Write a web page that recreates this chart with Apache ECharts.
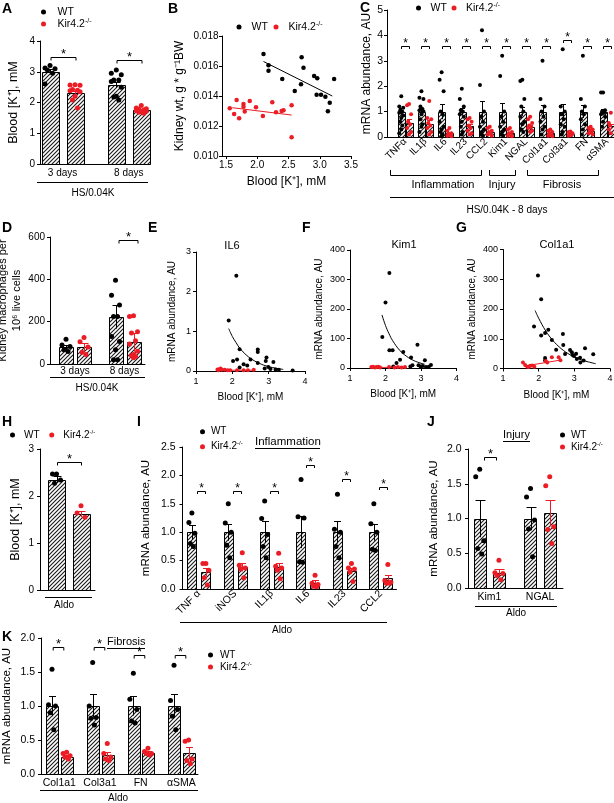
<!DOCTYPE html>
<html><head><meta charset="utf-8">
<script src="https://cdn.jsdelivr.net/npm/echarts@6/dist/echarts.min.js"></script>
<style>html,body{margin:0;padding:0;background:#fff}#c{width:614px;height:803px}</style>
</head><body><div id="c"></div>
<script>
// ================= DATA =================
// Panel A
const A_categories = ['3 days', '8 days'];
const A_wtMean = [3.0, 2.58];
const A_wtSem = [0.08, 0.1];
const A_koMean = [2.3, 1.75];
const A_koSem = [0.08, 0.03];
const A_wtPoints = [[3.2, 3.12, 3.1, 3.05, 2.95, 2.6], [3.06, 2.95, 2.9, 2.73, 2.73, 2.68, 2.5, 2.2, 2.18, 2.08]];
const A_koPoints = [[2.58, 2.57, 2.56, 2.42, 2.4, 2.38, 2.35, 2.2, 2.08, 1.82], [1.9, 1.82, 1.8, 1.78, 1.76, 1.74, 1.72, 1.7, 1.68, 1.65]];
const A_sig = [3.48, 3.38];

// Panel B
const B_wt = [[2.10,0.0168],[2.18,0.01605],[2.18,0.01569],[2.40,0.01513],[2.60,0.01433],[2.70,0.01478],[2.71,0.01658],[2.74,0.01589],[2.91,0.01533],[2.96,0.01518],[3.23,0.01513],[2.95,0.01409],[3.02,0.01409],[3.09,0.01395],[3.16,0.01355],[3.13,0.01298]];
const B_ko = [[1.56,0.01318],[1.63,0.0128],[1.67,0.01373],[1.71,0.01251],[1.78,0.01347],[1.78,0.01329],[1.80,0.01296],[1.88,0.01367],[1.98,0.01325],[2.09,0.01267],[2.24,0.01358],[2.30,0.01291],[2.39,0.01300],[2.42,0.01305],[2.55,0.01338],[2.55,0.01125]];
const B_wtFit = [[2.1,0.0163],[3.2,0.0140]];
const B_koFit = [[1.6,0.01322],[2.55,0.01273]];
const B_xTicks = [1.5, 2.0, 2.5, 3.0, 3.5];

// Panel C
const C_genes = ['TNFα','IL1β','IL6','IL23','CCL2','Kim1','NGAL','Col1a1','Col3a1','FN','αSMA'];
const C_wtMean = [1,1,1,1,1,1,1,1,1,1,1];
const C_wtSem = [0.15,0.15,0.3,0.15,0.4,0.35,0.17,0.25,0.28,0.25,0.12];
const C_koMean = [0.55,0.5,0.15,0.45,0.2,0.15,0.4,0.15,0.12,0.25,0.42];
const C_koSem = [0.15,0.15,0.05,0.08,0.05,0.05,0.08,0.04,0.03,0.05,0.1];
const C_wtPoints = [
  [1.6,1.2,1.15,1.05,1.0,0.95,0.85,0.75,0.6,0.45,0.3,0.15],
  [1.8,1.55,1.5,1.2,1.1,1.05,1.0,0.9,0.7,0.5,0.4,0.2],
  [2.55,2.25,1.8,1.0,0.9,0.6,0.4,0.3,0.2,0.1,0.05],
  [1.9,1.5,1.2,1.05,1.0,0.9,0.8,0.6,0.4,0.2,0.1],
  [4.2,2.05,1.0,0.8,0.6,0.4,0.3,0.2,0.1,0.05],
  [3.2,2.4,1.0,0.8,0.6,0.4,0.3,0.2,0.1,0.05],
  [2.25,2.2,1.5,1.2,1.0,0.8,0.6,0.5,0.3,0.2],
  [3.0,1.5,1.2,1.0,0.8,0.6,0.4,0.3,0.1],
  [3.45,1.2,1.0,0.9,0.7,0.5,0.4,0.2,0.1],
  [3.2,1.5,1.2,1.0,0.9,0.7,0.5,0.3,0.1],
  [1.75,1.75,1.05,1.0,0.95,0.9,0.8,0.6,0.4]
];
const C_koPoints = [
  [1.3,1.25,0.9,0.6,0.5,0.35,0.2,0.1],
  [1.42,0.75,0.7,0.55,0.45,0.35,0.2,0.1],
  [0.35,0.25,0.15,0.12,0.08,0.05,0.03],
  [0.75,0.7,0.6,0.45,0.35,0.25,0.15,0.1],
  [0.4,0.35,0.25,0.2,0.15,0.1,0.05],
  [0.35,0.3,0.2,0.15,0.1,0.05,0.03],
  [0.8,0.7,0.55,0.45,0.4,0.35,0.25,0.2],
  [0.3,0.25,0.2,0.15,0.1,0.05,0.03],
  [0.22,0.2,0.15,0.12,0.08,0.05],
  [0.4,0.35,0.3,0.25,0.2,0.15,0.1],
  [0.95,0.55,0.5,0.45,0.4,0.3,0.2,0.15]
];
const C_sig = [3.57,3.57,3.57,3.57,3.57,3.57,3.57,3.57,3.83,3.57,3.57];

// Panel D
const D_categories = ['3 days', '8 days'];
const D_wtMean = [80, 222];
const D_wtSem = [10, 55];
const D_koMean = [78, 103];
const D_koSem = [20, 45];
const D_wtPoints = [[117, 90, 83, 67, 59], [396, 325, 279, 224, 224, 130, 106, 67, 20, 20]];
const D_koPoints = [[125, 105, 80, 55, 45], [228, 224, 152, 146, 110, 95, 60, 45, 40, 35, 30]];
const D_sig = [null, 585];

// Panel E (IL6)
const E_wt = [[2.11,2.40],[1.90,1.27],[2.20,0.55],[2.02,0.25],[2.13,0.29],[2.31,0.17],[2.41,0.14],[2.50,0.29],[2.20,0.09],[2.70,0.54],[2.70,0.48],[2.70,0.20],[2.94,0.34],[2.92,0.25],[3.13,0.23],[2.89,0.06],[2.99,0.10],[3.05,0.05],[3.19,0.04],[3.28,0.03],[3.66,0.01]];
const E_ko = [[1.59,0.04],[1.62,0.02],[1.65,0.05],[1.68,0.06],[1.71,0.03],[1.79,0.03],[1.87,0.02],[1.94,0.02],[2.13,0.02],[2.31,0.02],[2.43,0.02],[2.59,0.03]];
const E_wtFit = [[1.9,1.07],[2.0,0.87],[2.1,0.72],[2.2,0.58],[2.4,0.39],[2.6,0.26],[2.8,0.17],[3.0,0.11],[3.2,0.07],[3.4,0.04]];
const E_koFit = [[1.6,0.02],[2.6,0.02]];

// Panel F (Kim1)
const F_wt = [[2.11,322],[2.0,222],[1.91,105],[2.11,60],[2.20,60],[2.50,54],[2.41,28],[2.31,17],[2.72,36],[2.90,79],[3.11,26],[2.22,5],[2.70,5],[2.76,9],[2.93,9],[2.99,5],[3.05,7],[3.14,3],[3.22,4],[3.28,10]];
const F_ko = [[1.6,3],[1.65,4],[1.7,2],[1.75,3],[1.8,4],[1.85,2],[2.1,3],[2.25,2],[2.35,3],[2.45,2],[2.55,3]];
const F_wtFit = [[1.9,180],[2.0,144],[2.1,116],[2.2,93],[2.4,60],[2.6,39],[2.8,25],[3.0,16],[3.1,13]];
const F_koFit = [[1.6,2],[2.6,2]];

// Panel G (Col1a1)
const G_wt = [[1.98,313],[2.07,233],[1.87,141],[2.07,111],[2.18,119],[2.27,130],[2.37,96],[2.49,63],[2.68,116],[2.69,79],[2.18,35],[2.18,27],[2.74,49],[2.88,62],[2.93,55],[2.95,45],[2.99,42],[3.05,50],[3.07,32],[3.16,36],[3.17,20],[3.26,27],[3.30,68],[3.53,48]];
const G_ko = [[1.56,20],[1.62,12],[1.68,6],[1.72,5],[1.76,9],[1.82,10],[1.88,6],[2.2,25],[2.24,20],[2.37,38],[2.56,38],[2.61,28]];
const G_wtFit = [[1.9,195],[2.0,169],[2.2,126],[2.4,94],[2.6,70],[2.8,52],[3.0,39],[3.2,29],[3.4,22],[3.6,16]];
const G_koFit = [[1.6,8],[2.6,28]];

// Panel H
const H_wtMean = [2.35];
const H_wtSem = [0.07];
const H_koMean = [1.62];
const H_koSem = [0.07];
const H_wtPoints = [[2.47, 2.47, 2.34, 2.27]];
const H_koPoints = [[1.79, 1.64, 1.55]];
const H_sig = [2.73];

// Panel I
const I_genes = ['TNF α','iNOS','IL1β','IL6','IL23','CCL2'];
const I_wtMean = [1,1,1,1,1,1];
const I_wtSem = [0.13,0.15,0.19,0.28,0.2,0.15];
const I_koMean = [0.3,0.38,0.38,0.1,0.32,0.19];
const I_koSem = [0.07,0.07,0.07,0.05,0.05,0.06];
const I_wtPoints = [[1.34,1.17,0.98,0.8,0.75],[1.5,1.16,1.0,0.77,0.55],[1.55,1.24,0.96,0.75,0.55],[1.93,1.27,1.25,0.48,0.47],[1.67,1.05,1.0,0.75,0.55],[1.5,1.15,1.0,0.7,0.68]];
const I_koPoints = [[0.45,0.45,0.33,0.2,0.07],[0.64,0.42,0.37,0.35,0.2],[0.63,0.4,0.37,0.33,0.18],[0.24,0.1,0.08,0.05,0.04],[0.45,0.37,0.35,0.3,0.13],[0.43,0.15,0.12,0.1,0.1]];
const I_sig = [1.73,1.73,1.73,2.18,1.93,1.79];

// Panel J
const J_genes = ['Kim1','NGAL'];
const J_wtMean = [1.0, 1.0];
const J_wtSem = [0.27, 0.17];
const J_koMean = [0.22, 1.08];
const J_koSem = [0.05, 0.19];
const J_wtPoints = [[1.71,1.6,0.68,0.57,0.49],[1.43,1.31,0.98,0.85,0.45]];
const J_koPoints = [[0.4,0.22,0.21,0.18,0.12],[1.6,1.47,0.88,0.84,0.64]];
const J_sig = [1.89, null];

// Panel K
const K_genes = ['Col1a1','Col3a1','FN','αSMA'];
const K_wtMean = [1,1,1,1];
const K_wtSem = [0.15,0.17,0.14,0.17];
const K_koMean = [0.25,0.28,0.31,0.31];
const K_koSem = [0.03,0.04,0.03,0.08];
const K_wtPoints = [[1.54,1.02,1.0,0.9,0.65],[1.64,1.0,0.83,0.82,0.72],[1.48,1.1,0.95,0.78,0.75],[1.6,1.08,0.95,0.85,0.65]];
const K_koPoints = [[0.32,0.3,0.27,0.25,0.22],[0.45,0.3,0.25,0.22,0.2],[0.38,0.33,0.3,0.3,0.28],[0.5,0.48,0.22,0.2,0.15]];
const K_sig = [1.87,1.87,1.75,1.75];

// ================= STYLE / LAYOUT =================
const FONT = 'Liberation Sans, Arial, Helvetica, sans-serif';
const RED = '#ec1c24';
const WT_NAME = 'WT', KO_NAME = 'Kir4.2-/-';

function makeHatch() {
  const s = 4, c = document.createElement('canvas'); c.width = s; c.height = s;
  const g = c.getContext('2d');
  g.fillStyle = '#fff'; g.fillRect(0, 0, s, s);
  g.strokeStyle = '#1a1a1a'; g.lineWidth = 1.1;
  g.beginPath();
  for (let k = 0; k <= 2; k++) { const cc = k * s; g.moveTo(cc - s - 1, s + 1); g.lineTo(cc + 1, -1); }
  g.stroke();
  return c;
}
const HATCH = { image: makeHatch(), repeat: 'repeat' };

const grids = [], xAxes = [], yAxes = [], series = [], legends = [], graphics = [];

function gridOf(g) {
  grids.push({ left: g[0], top: g[1], width: g[2], height: g[3], containLabel: false, outerBoundsMode: 'none' });
  return grids.length - 1;
}

function yAxisOf(gi, p) {
  return {
    type: 'value', gridIndex: gi, min: p.yMin || 0, max: p.yMax, interval: p.yInt,
    axisLine: { show: true, onZero: false, lineStyle: { color: '#000', width: 1 } },
    axisTick: { show: true, length: 3, lineStyle: { color: '#000', width: 1 } },
    splitLine: { show: false },
    axisLabel: { color: '#000', fontSize: p.tickFont, fontFamily: FONT, margin: p.yLabelMargin,
      formatter: v => Number(v).toFixed(p.yDec) },
    name: p.yName, nameLocation: 'middle', nameRotate: 90, nameGap: p.yNameGap,
    nameTextStyle: { color: '#000', fontSize: p.yNameFont, fontFamily: FONT, lineHeight: p.yNameLH || Math.round(p.yNameFont * 1.2) }
  };
}

const JIT = [0, -1, 1, -0.5, 0.5, -1, 1, 0, -0.5, 0.5, 0, -1, 1];
function pointData(ptsByCat, offU, sprU) {
  const out = [];
  ptsByCat.forEach((vals, i) => vals.forEach((v, j) => out.push([i + offU + JIT[j % JIT.length] * sprU, v])));
  return out;
}

function barSeries(gi, xs, means, sems, errColor, p) {
  return {
    type: 'custom', xAxisIndex: gi, yAxisIndex: gi, silent: true, z: 2, clip: false,
    encode: { x: 0, y: 1 },
    data: means.map((m, i) => [xs[i], m, sems[i]]),
    renderItem: (params, api) => {
      const x = api.value(0), m = api.value(1), s = api.value(2);
      const p0 = api.coord([x, 0]), p1 = api.coord([x, m]);
      const pt = api.coord([x, m + s]), pb = api.coord([x, Math.max(0, m - s)]);
      const w = p.barW;
      const left = Math.round(p0[0] - w / 2) + 0.5;
      const cx = Math.round(p0[0]) + 0.5;
      const topY = Math.round(p1[1]) + 0.5, baseY = Math.round(p0[1]) + 0.5;
      const ty = Math.round(pt[1]) + 0.5;
      return { type: 'group', children: [
        { type: 'rect', shape: { x: left, y: topY, width: Math.round(w), height: baseY - topY }, style: { fill: HATCH, stroke: '#000', lineWidth: 1 } },
        { type: 'line', shape: { x1: cx, y1: pb[1], x2: cx, y2: ty }, style: { stroke: errColor, lineWidth: 1 } },
        { type: 'line', shape: { x1: cx - p.cap, y1: ty, x2: cx + p.cap, y2: ty }, style: { stroke: errColor, lineWidth: 1 } }
      ] };
    }
  };
}

function scatterSeries(gi, name, data, color, size) {
  return { type: 'scatter', name, xAxisIndex: gi, yAxisIndex: gi, data, symbol: 'circle', symbolSize: size,
    itemStyle: { color, opacity: 1 }, silent: true, z: 5 };
}

function sigSeries(gi, sig, p) {
  const data = sig.map((v, i) => [i, v]).filter(a => a[1] != null);
  return {
    type: 'custom', xAxisIndex: gi, yAxisIndex: gi, silent: true, z: 6, clip: false,
    encode: { x: 0, y: 1 }, data,
    renderItem: (params, api) => {
      const c = api.coord([api.value(0), api.value(1)]);
      const x = Math.round(c[0] + p.sigShift) + 0.5, y = Math.round(c[1]) + 0.5;
      const h = p.sigHalf, t = p.sigTick;
      return { type: 'group', children: [
        { type: 'polyline', shape: { points: [[x - h, y + t], [x - h, y], [x + h, y], [x + h, y + t]] }, style: { stroke: '#000', fill: null, lineWidth: 1 } },
        { type: 'text', x: x, y: y + p.star * 0.25, style: { text: '*', fill: '#000', font: p.star + 'px ' + FONT,
          textAlign: 'center', align: 'center', textVerticalAlign: 'bottom', verticalAlign: 'bottom' } }
      ] };
    }
  };
}

function barPanel(p, d) {
  const gi = gridOf(p.grid);
  const unit = p.grid[2] / (p.xMax - p.xMin);
  const cats = d.cats;
  xAxes.push({
    type: 'value', gridIndex: gi, min: p.xMin, max: p.xMax,
    axisLine: { show: true, onZero: false, lineStyle: { color: '#000', width: 1 } },
    axisTick: { show: false }, splitLine: { show: false },
    axisLabel: cats ? { show: true, customValues: cats.map((c, i) => i), formatter: v => cats[Math.round(v)],
      rotate: p.labelRotate || 0, margin: p.labelMargin, color: '#000', fontSize: p.labelFont, fontFamily: FONT } : { show: false }
  });
  yAxes.push(yAxisOf(gi, p));
  const offU = p.barOff / unit, sprU = p.spread / unit;
  series.push(barSeries(gi, d.wtMean.map((m, i) => i - offU), d.wtMean, d.wtSem, '#000', p));
  series.push(barSeries(gi, d.koMean.map((m, i) => i + offU), d.koMean, d.koSem, RED, p));
  series.push(scatterSeries(gi, WT_NAME, pointData(d.wtPts, -offU, sprU), '#000', p.dot));
  series.push(scatterSeries(gi, KO_NAME, pointData(d.koPts, offU, sprU), RED, p.dot));
  if (d.sig) series.push(sigSeries(gi, d.sig, p));
}

function scatterPanel(p, d) {
  const gi = gridOf(p.grid);
  const xa = {
    type: 'value', gridIndex: gi, min: p.xMin, max: p.xMax,
    axisLine: { show: true, onZero: false, lineStyle: { color: '#000', width: 1 } },
    axisTick: { show: true, length: 3, lineStyle: { color: '#000', width: 1 } },
    splitLine: { show: false },
    axisLabel: { color: '#000', fontSize: p.tickFont, fontFamily: FONT, margin: p.xLabelMargin, formatter: v => Number(v).toFixed(p.xDec) },
    name: p.xName, nameLocation: 'middle', nameGap: p.xNameGap,
    nameTextStyle: { color: '#000', fontSize: p.xNameFont, fontFamily: FONT }
  };
  if (p.xTicks) { xa.axisLabel.customValues = p.xTicks; xa.axisTick.customValues = p.xTicks; }
  else { xa.interval = p.xInt; }
  xAxes.push(xa);
  yAxes.push(yAxisOf(gi, p));
  series.push({ type: 'line', xAxisIndex: gi, yAxisIndex: gi, data: d.wtFit, smooth: d.smooth ? 0.4 : false, showSymbol: false, symbol: 'none',
    lineStyle: { color: '#000', width: 1 }, silent: true, z: 3 });
  series.push({ type: 'line', xAxisIndex: gi, yAxisIndex: gi, data: d.koFit, smooth: false, showSymbol: false, symbol: 'none',
    lineStyle: { color: RED, width: 1 }, silent: true, z: 3 });
  series.push(scatterSeries(gi, WT_NAME, d.wt, '#000', p.dot));
  series.push(scatterSeries(gi, KO_NAME, d.ko, RED, p.dot));
}

function legendOf(o) {
  legends.push({
    left: o.left, top: o.top, orient: o.orient, itemGap: o.gap, padding: 0, selectedMode: false,
    icon: 'circle', itemWidth: o.w, itemHeight: 5, data: [WT_NAME, KO_NAME],
    formatter: n => n === WT_NAME ? 'WT' : 'Kir4.2{s|-/-}',
    textStyle: { color: '#000', fontSize: o.font, fontFamily: FONT, lineHeight: 12,
      rich: { s: { fontSize: Math.round(o.font * 0.62), fontFamily: FONT, color: '#000', verticalAlign: 'top', lineHeight: 8 } } }
  });
}

function gText(x, y, text, size, o) {
  o = o || {};
  return { type: 'text', x, y, silent: true, style: { text, fill: '#000', font: (o.bold ? 'bold ' : '') + size + 'px ' + FONT,
    textAlign: o.align || 'left', align: o.align || 'left', textVerticalAlign: 'middle', verticalAlign: 'middle' } };
}
function gLine(x1, y1, x2, y2) { return { type: 'line', silent: true, shape: { x1, y1, x2, y2 }, style: { stroke: '#000', lineWidth: 1 } }; }
function gPoly(points) { return { type: 'polyline', silent: true, shape: { points }, style: { stroke: '#000', fill: null, lineWidth: 1 } }; }

// ================= BUILD PANELS =================
barPanel({ grid: [40, 41, 110, 123], xMin: -0.34, xMax: 1.32, yMax: 4, yInt: 1, yDec: 0, barW: 16.5, barOff: 12.5, cap: 4, dot: 5, spread: 5,
  sigHalf: 12.5, sigShift: 0, sigTick: 3, star: 13, labelMargin: 4, labelFont: 10, tickFont: 10, yLabelMargin: 5,
  yName: 'Blood [K⁺], mM', yNameGap: 19, yNameFont: 12.5 },
  { cats: A_categories, wtMean: A_wtMean, wtSem: A_wtSem, koMean: A_koMean, koSem: A_koSem, wtPts: A_wtPoints, koPts: A_koPoints, sig: A_sig });

scatterPanel({ grid: [222, 36, 129, 120], xMin: 1.436, xMax: 3.5, xTicks: B_xTicks, xDec: 1, yMin: 0.010, yMax: 0.018, yInt: 0.002, yDec: 3,
  tickFont: 10, xLabelMargin: 4, yLabelMargin: 3.5, dot: 4.5,
  xName: 'Blood [K⁺], mM', xNameGap: 20, xNameFont: 12, yName: 'Kidney wt, g * g⁻¹BW', yNameGap: 35, yNameFont: 12 },
  { wt: B_wt, ko: B_ko, wtFit: B_wtFit, koFit: B_koFit, smooth: false });

barPanel({ grid: [387, 10, 224, 127], xMin: -0.9, xMax: 10.2, yMax: 5, yInt: 1, yDec: 0, barW: 6.5, barOff: 3.9, cap: 2.5, dot: 4, spread: 2,
  sigHalf: 4, sigShift: 0, sigTick: 2.5, star: 12, labelRotate: 45, labelMargin: 3, labelFont: 10, tickFont: 10.5, yLabelMargin: 4,
  yName: 'mRNA abundance, AU', yNameGap: 9, yNameFont: 12 },
  { cats: C_genes, wtMean: C_wtMean, wtSem: C_wtSem, koMean: C_koMean, koSem: C_koSem, wtPts: C_wtPoints, koPts: C_koPoints, sig: C_sig });

barPanel({ grid: [50, 237, 95, 127], xMin: -0.505, xMax: 1.414, yMax: 600, yInt: 200, yDec: 0, barW: 14, barOff: 9, cap: 4, dot: 5, spread: 4,
  sigHalf: 9.5, sigShift: 3, sigTick: 3, star: 13, labelMargin: 2, labelFont: 10, tickFont: 10, yLabelMargin: 5,
  yName: 'Kidney macrophages per\n10⁶ live cells', yNameGap: 18, yNameFont: 11, yNameLH: 14.5 },
  { cats: D_categories, wtMean: D_wtMean, wtSem: D_wtSem, koMean: D_koMean, koSem: D_koSem, wtPts: D_wtPoints, koPts: D_koPoints, sig: D_sig });

scatterPanel({ grid: [196, 252, 109, 119], xMin: 1, xMax: 4, xInt: 1, xDec: 0, yMin: 0, yMax: 3, yInt: 1, yDec: 0,
  tickFont: 9, xLabelMargin: 6, yLabelMargin: 5, dot: 4,
  xName: 'Blood [K⁺], mM', xNameGap: 21, xNameFont: 10, yName: 'mRNA abundance, AU', yNameGap: 18, yNameFont: 10 },
  { wt: E_wt, ko: E_ko, wtFit: E_wtFit, koFit: E_koFit, smooth: true });

scatterPanel({ grid: [350, 250, 106.5, 118], xMin: 1, xMax: 4, xInt: 1, xDec: 0, yMin: 0, yMax: 400, yInt: 100, yDec: 0,
  tickFont: 9, xLabelMargin: 6, yLabelMargin: 5, dot: 4,
  xName: 'Blood [K⁺], mM', xNameGap: 21, xNameFont: 10, yName: 'mRNA abundance, AU', yNameGap: 25, yNameFont: 10 },
  { wt: F_wt, ko: F_ko, wtFit: F_wtFit, koFit: F_koFit, smooth: true });

scatterPanel({ grid: [503, 249.5, 107, 119], xMin: 1, xMax: 4, xInt: 1, xDec: 0, yMin: 0, yMax: 400, yInt: 100, yDec: 0,
  tickFont: 9, xLabelMargin: 6, yLabelMargin: 5, dot: 4,
  xName: 'Blood [K⁺], mM', xNameGap: 22, xNameFont: 10, yName: 'mRNA abundance, AU', yNameGap: 24.5, yNameFont: 10 },
  { wt: G_wt, ko: G_ko, wtFit: G_wtFit, koFit: G_koFit, smooth: true });

barPanel({ grid: [40, 449, 55, 141], xMin: -0.575, xMax: 0.525, yMax: 3, yInt: 1, yDec: 0, barW: 16.7, barOff: 12.25, cap: 4, dot: 5, spread: 4,
  sigHalf: 12, sigShift: 0, sigTick: 3, star: 13, tickFont: 10, yLabelMargin: 6,
  yName: 'Blood [K⁺], mM', yNameGap: 17, yNameFont: 12.5 },
  { cats: null, wtMean: H_wtMean, wtSem: H_wtSem, koMean: H_koMean, koSem: H_koSem, wtPts: H_wtPoints, koPts: H_koPoints, sig: H_sig });

barPanel({ grid: [182.5, 447, 214, 142], xMin: -0.45, xMax: 5.43, yMax: 2.5, yInt: 0.5, yDec: 1, barW: 9.4, barOff: 7, cap: 3.5, dot: 5, spread: 3,
  sigHalf: 4, sigShift: 2, sigTick: 2.5, star: 12, labelRotate: 45, labelMargin: 3, labelFont: 10.5, tickFont: 10.5, yLabelMargin: 7,
  yName: 'mRNA abundance, AU', yNameGap: 30, yNameFont: 11.5 },
  { cats: I_genes, wtMean: I_wtMean, wtSem: I_wtSem, koMean: I_koMean, koSem: I_koSem, wtPts: I_wtPoints, koPts: I_koPoints, sig: I_sig });

barPanel({ grid: [468, 449, 95, 139], xMin: -0.42, xMax: 1.45, yMax: 2, yInt: 0.5, yDec: 1, barW: 12.4, barOff: 9.6, cap: 5, dot: 5, spread: 4,
  sigHalf: 6, sigShift: 1, sigTick: 3, star: 13, labelMargin: 4, labelFont: 10.5, tickFont: 10.5, yLabelMargin: 6.5,
  yName: 'mRNA abundance, AU', yNameGap: 27, yNameFont: 11.5 },
  { cats: J_genes, wtMean: J_wtMean, wtSem: J_wtSem, koMean: J_koMean, koSem: J_koSem, wtPts: J_wtPoints, koPts: J_koPoints, sig: J_sig });

barPanel({ grid: [41, 638, 157, 136], xMin: -0.45, xMax: 3.41, yMax: 2, yInt: 0.5, yDec: 1, barW: 11.5, barOff: 7.3, cap: 3.5, dot: 5, spread: 3.5,
  sigHalf: 5.3, sigShift: -1.3, sigTick: 3, star: 13, labelMargin: 4, labelFont: 10.5, tickFont: 10.5, yLabelMargin: 6,
  yName: 'mRNA abundance, AU', yNameGap: 27, yNameFont: 11.5 },
  { cats: K_genes, wtMean: K_wtMean, wtSem: K_wtSem, koMean: K_koMean, koSem: K_koSem, wtPts: K_wtPoints, koPts: K_koPoints, sig: K_sig });

// ================= LEGENDS =================
legendOf({ left: 41, top: 6, orient: 'vertical', gap: 0, w: 18, font: 10.5 });          // A
legendOf({ left: 236.5, top: 21, orient: 'horizontal', gap: 5.7, w: 15, font: 10.5 });  // B
legendOf({ left: 416, top: 2, orient: 'horizontal', gap: 4.7, w: 14, font: 10.5 });     // C
legendOf({ left: 10, top: 429, orient: 'horizontal', gap: 9.6, w: 13.2, font: 10 });    // H
legendOf({ left: 200, top: 425.7, orient: 'vertical', gap: 3, w: 6.8, font: 10 });      // I
legendOf({ left: 560, top: 429, orient: 'vertical', gap: 0, w: 6.8, font: 10 });        // J
legendOf({ left: 208, top: 649, orient: 'vertical', gap: 0, w: 8.8, font: 10 });        // K

// ================= ANNOTATIONS =================
[['A', 2, 9], ['B', 168, 9], ['C', 360, 8], ['D', 2, 228], ['E', 148, 228], ['F', 302, 228], ['G', 456, 228],
 ['H', 2, 422], ['I', 137, 422], ['J', 427, 422], ['K', 2, 637]].forEach(a => graphics.push(gText(a[1], a[2], a[0], 14, { bold: true })));

// A
graphics.push(gLine(37, 182.5, 148, 182.5), gText(93, 193, 'HS/0.04K', 10, { align: 'center' }));
// C
graphics.push(
  gPoly([[390.5, 170], [390.5, 175.5], [481.5, 175.5], [481.5, 170]]),
  gPoly([[489.5, 170], [489.5, 175.5], [515.5, 175.5], [515.5, 170]]),
  gPoly([[527.5, 170], [527.5, 175.5], [598.5, 175.5], [598.5, 170]]),
  gText(443, 185, 'Inflammation', 11, { align: 'center' }),
  gText(502, 185, 'Injury', 11, { align: 'center' }),
  gText(562, 185, 'Fibrosis', 11, { align: 'center' }),
  gLine(390, 197.5, 614, 197.5),
  gText(507, 210, 'HS/0.04K - 8 days', 10, { align: 'center' })
);
// D
graphics.push(gLine(50, 377.5, 145, 377.5), gText(97, 388, 'HS/0.04K', 10, { align: 'center' }));
// E, F, G titles
graphics.push(gText(232, 246, 'IL6', 11, { align: 'center' }), gText(404, 245, 'Kim1', 11, { align: 'center' }), gText(557, 245, 'Col1a1', 11, { align: 'center' }));
// H
graphics.push(gLine(45, 597.5, 92, 597.5), gText(64, 605, 'Aldo', 10, { align: 'center' }));
// I
graphics.push(gText(255, 441.7, 'Inflammation', 11.5), gLine(255, 448.5, 320, 448.5),
  gLine(180, 622.5, 387, 622.5), gText(282, 630, 'Aldo', 10, { align: 'center' }));
// J
graphics.push(gText(503, 435, 'Injury', 11), gLine(503, 441.5, 530, 441.5),
  gLine(475, 606.5, 557, 606.5), gText(516, 613, 'Aldo', 10, { align: 'center' }));
// K
graphics.push(gText(107, 641.7, 'Fibrosis', 11), gLine(107, 648.5, 145, 648.5),
  gLine(40, 790.5, 198, 790.5), gText(118, 798, 'Aldo', 10, { align: 'center' }));

const chart = echarts.init(document.getElementById('c'), null, { renderer: 'canvas', width: 614, height: 803 });
chart.setOption({
  animation: false, backgroundColor: '#fff', textStyle: { fontFamily: FONT },
  tooltip: { show: false },
  grid: grids, xAxis: xAxes, yAxis: yAxes, series, legend: legends,
  graphic: { elements: graphics }
});
</script></body></html>
